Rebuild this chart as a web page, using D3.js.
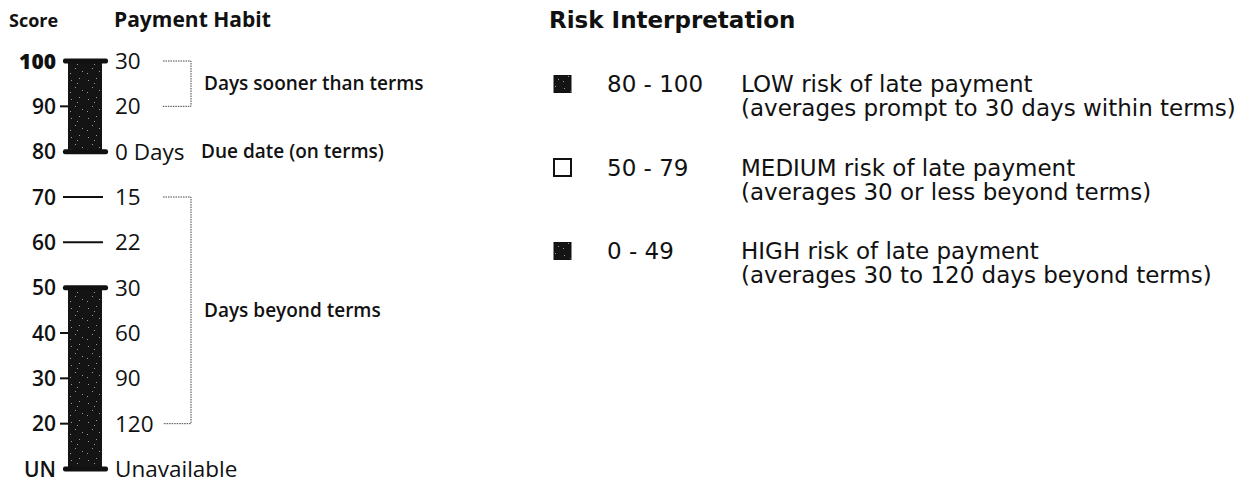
<!DOCTYPE html>
<html><head><meta charset="utf-8">
<script src="https://cdn.jsdelivr.net/npm/d3@7/dist/d3.min.js"></script>
<style>
body{margin:0;background:#fff;}
svg{display:block;}
</style></head>
<body>
<svg id="c" width="1259" height="486"></svg>
<script>
// ---- data ----
const scores = ["100","90","80","70","60","50","40","30","20","UN"];
const paymentHabits = ["30","20","0 Days","15","22","30","60","90","120","Unavailable"];
const solidBands = [["100","80"],["50","UN"]];
const lineScores = ["70","60"];
const minorTicks = ["90","40","30","20"];
const brackets = [
  {from:"100", to:"90", label:"Days sooner than terms"},
  {from:"70", to:"20", label:"Days beyond terms"}
];
const notes = [{at:"80", label:"Due date (on terms)"}];
const riskRanges = ["80 - 100","50 - 79","0 - 49"];
const riskFill = ["dark","empty","dark"];
const riskLine1 = ["LOW risk of late payment","MEDIUM risk of late payment","HIGH risk of late payment"];
const riskLine2 = ["(averages prompt to 30 days within terms)","(averages 30 or less beyond terms)","(averages 30 to 120 days beyond terms)"];

// ---- drawing ----
const svg = d3.select("#c");
const leftFont = "'Open Sans', 'Noto Sans', sans-serif";
const rightFont = "'DejaVu Sans', Verdana, sans-serif";
const ink = "#111";

const y = d3.scalePoint().domain(scores).range([61, 469]);
const barX0 = 68, barX1 = 102, capX0 = 63, capX1 = 108;

// speckle pattern for the dark bars
const defs = svg.append("defs");
const pat = defs.append("pattern").attr("id","speck").attr("patternUnits","userSpaceOnUse").attr("width",17).attr("height",19);
pat.append("rect").attr("width",17).attr("height",19).attr("fill","#141414");
[[3,4],[11,2],[7,11],[14,14],[2,16],[9,7]].forEach(([a,b]) =>
  pat.append("rect").attr("x",a).attr("y",b).attr("width",1).attr("height",1).attr("fill","#9a9a9a"));

// headers
svg.append("text").attr("x",9).attr("y",27).text("Score")
  .attr("font-family",leftFont).attr("font-weight",700).attr("font-size",18).attr("fill",ink);
svg.append("text").attr("x",114).attr("y",27).text("Payment Habit")
  .attr("font-family",leftFont).attr("font-weight",700).attr("font-size",21).attr("fill",ink);
svg.append("text").attr("x",549).attr("y",28).text("Risk Interpretation")
  .attr("font-family",rightFont).attr("font-weight",700).attr("font-size",23).attr("fill",ink);

// solid bars with caps
const g = svg.append("g");
solidBands.forEach(([a,b]) => {
  g.append("rect").attr("x",barX0).attr("y",y(a)).attr("width",barX1-barX0).attr("height",y(b)-y(a)).attr("fill","url(#speck)");
  [a,b].forEach(s => g.append("rect").attr("x",capX0).attr("y",y(s)-2.5).attr("width",capX1-capX0).attr("height",5).attr("rx",2).attr("fill",ink));
});
// single lines
lineScores.forEach(s => g.append("line").attr("x1",capX0).attr("x2",capX1-5).attr("y1",y(s)).attr("y2",y(s)).attr("stroke",ink).attr("stroke-width",2));
// minor ticks
minorTicks.forEach(s => g.append("line").attr("x1",60).attr("x2",barX0).attr("y1",y(s)).attr("y2",y(s)).attr("stroke",ink).attr("stroke-width",2));

// score labels
svg.append("g").selectAll("text").data(scores).join("text")
  .attr("x",56).attr("y",d=>y(d)).attr("dy","0.36em").attr("text-anchor","end")
  .attr("font-family",leftFont).attr("font-weight",d=>d==="100"?800:600).attr("font-size",21).attr("fill",ink)
  .text(d=>d);
// payment labels
svg.append("g").selectAll("text").data(paymentHabits).join("text")
  .attr("x",115).attr("y",(d,i)=>y(scores[i])).attr("dy","0.36em")
  .attr("font-family",leftFont).attr("font-weight",500).attr("font-size",22.5).attr("fill",ink)
  .text(d=>d);

// brackets
const bx0 = 163, bx1 = 191;
brackets.forEach(b => {
  const y0 = y(b.from), y1 = y(b.to);
  svg.append("path").attr("d",`M${bx0},${y0}H${bx1}V${y1}H${bx0}`)
    .attr("fill","none").attr("stroke","#444").attr("stroke-width",1).attr("stroke-dasharray","1.5,1");
  svg.append("text").attr("x",204).attr("y",(y0+y1)/2).attr("dy","0.35em").text(b.label)
    .attr("font-family",leftFont).attr("font-weight",600).attr("font-size",19).attr("fill",ink);
});
notes.forEach(n => svg.append("text").attr("x",201).attr("y",y(n.at)).attr("dy","0.35em").text(n.label)
  .attr("font-family",leftFont).attr("font-weight",600).attr("font-size",19).attr("fill",ink));

// legend
const ly = d3.scalePoint().domain(riskRanges).range([84, 251]);
const lg = svg.append("g").selectAll("g").data(riskRanges).join("g")
  .attr("transform",d=>`translate(0,${ly(d)})`);
lg.append("rect").attr("x",554).attr("y",-8.5).attr("width",17).attr("height",17)
  .attr("fill",(d,i)=>riskFill[i]==="dark"?"url(#speck)":"#fff")
  .attr("stroke",ink).attr("stroke-width",(d,i)=>riskFill[i]==="dark"?1:2);
lg.append("text").attr("x",607).attr("dy","0.36em").text(d=>d)
  .attr("font-family",rightFont).attr("font-size",23).attr("fill",ink);
lg.append("text").attr("x",741).attr("dy","0.36em").text((d,i)=>riskLine1[i])
  .attr("font-family",rightFont).attr("font-size",23).attr("fill",ink);
lg.append("text").attr("x",741).attr("y",24).attr("dy","0.36em").text((d,i)=>riskLine2[i])
  .attr("font-family",rightFont).attr("font-size",23).attr("fill",ink);
</script>
</body></html>
